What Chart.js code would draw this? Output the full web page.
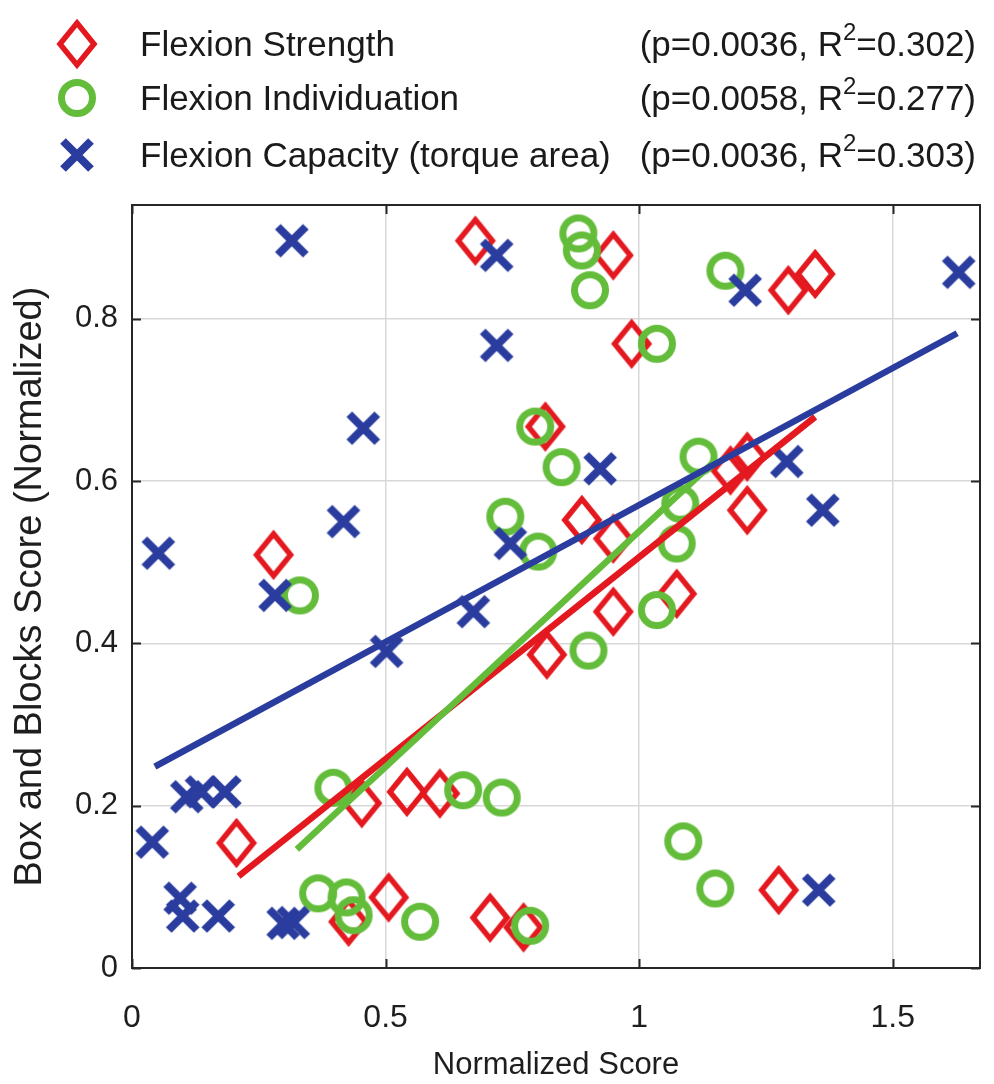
<!DOCTYPE html>
<html>
<head>
<meta charset="utf-8">
<script src="https://cdn.jsdelivr.net/npm/chart.js@4.4.0/dist/chart.umd.min.js"></script>
<style>
  html, body { margin: 0; padding: 0; background: #ffffff; }
  #wrap { width: 994px; height: 1084px; }
</style>
</head>
<body>
<div id="wrap"><canvas id="c" width="994" height="1084"></canvas></div>
<script>
// ---------- data ----------
const seriesNames = ["Flexion Strength", "Flexion Individuation", "Flexion Capacity (torque area)"];
const seriesP = ["0.0036", "0.0058", "0.0036"];
const seriesR2 = ["0.302", "0.277", "0.303"];

const strengthX = [0.677, 0.949, 0.985, 1.294, 1.347, 0.815, 0.279, 0.887, 0.949, 1.180, 1.213, 1.213,
                   1.074, 0.949, 0.818, 0.206, 0.453, 0.542, 0.607, 0.427, 0.506, 0.706, 0.772, 1.275];
const strengthY = [0.896, 0.878, 0.769, 0.835, 0.855, 0.667, 0.509, 0.552, 0.529, 0.613, 0.630, 0.564,
                   0.461, 0.439, 0.386, 0.154, 0.203, 0.217, 0.215, 0.057, 0.087, 0.062, 0.050, 0.096];

const individuationX = [0.880, 0.887, 0.903, 1.170, 1.035, 0.795, 0.847, 0.736, 0.801, 0.331, 1.117, 1.081,
                        1.074, 1.035, 0.900, 0.397, 0.653, 0.729, 0.367, 0.423, 0.437, 0.568, 0.785, 1.087, 1.150];
const individuationY = [0.905, 0.884, 0.835, 0.859, 0.769, 0.667, 0.617, 0.556, 0.513, 0.459, 0.630, 0.572,
                        0.523, 0.441, 0.391, 0.222, 0.219, 0.210, 0.092, 0.087, 0.065, 0.057, 0.052, 0.156, 0.098];

const capacityX = [0.315, 0.719, 0.719, 0.456, 0.417, 0.052, 0.282, 0.502, 0.673, 0.746, 0.923, 1.209, 1.630,
                   1.291, 1.362, 1.354, 0.040, 0.108, 0.137, 0.183, 0.095, 0.100, 0.170, 0.298, 0.318];
const capacityY = [0.896, 0.878, 0.767, 0.665, 0.550, 0.511, 0.459, 0.390, 0.439, 0.523, 0.615, 0.835, 0.857,
                   0.624, 0.564, 0.096, 0.155, 0.211, 0.217, 0.217, 0.086, 0.064, 0.064, 0.055, 0.056];

// regression line end points
const strengthFitX = [0.210, 1.347];
const strengthFitY = [0.113, 0.679];
const individuationFitX = [0.325, 1.150];
const individuationFitY = [0.146, 0.625];
const capacityFitX = [0.045, 1.627];
const capacityFitY = [0.248, 0.782];

// axes
const xTicks = [0, 0.5, 1, 1.5];
const yTicks = [0, 0.2, 0.4, 0.6, 0.8];
const xTickLabels = ["0", "0.5", "1", "1.5"];
const yTickLabels = ["0", "0.2", "0.4", "0.6", "0.8"];
const xTitle = "Normalized Score";
const yTitle = "Box and Blocks Score (Normalized)";

// ---------- styles ----------
const RED = "#e3191f";
const GREEN = "#63bd3a";
const BLUE = "#2a3d9e";
const FONT = "'Liberation Sans', Arial, Helvetica, sans-serif";

function makeDiamond(color) {
  const c = document.createElement("canvas");
  c.width = 48; c.height = 60;
  const g = c.getContext("2d");
  g.strokeStyle = color; g.lineWidth = 5.5; g.lineJoin = "miter";
  g.beginPath();
  g.moveTo(24, 9); g.lineTo(41, 30); g.lineTo(24, 51); g.lineTo(7, 30); g.closePath();
  g.stroke();
  return c;
}
function makeCircle(color) {
  const c = document.createElement("canvas");
  c.width = 44; c.height = 44;
  const g = c.getContext("2d");
  g.strokeStyle = color; g.lineWidth = 7;
  g.beginPath(); g.arc(22, 22, 15.5, 0, Math.PI * 2); g.stroke();
  return c;
}
function makeCross(color) {
  const c = document.createElement("canvas");
  c.width = 44; c.height = 44;
  const g = c.getContext("2d");
  g.strokeStyle = color; g.lineWidth = 8; g.lineCap = "butt";
  g.beginPath();
  g.moveTo(8, 8); g.lineTo(36, 36);
  g.moveTo(36, 8); g.lineTo(8, 36);
  g.stroke();
  return c;
}
const diamondImg = makeDiamond(RED);
const circleImg = makeCircle(GREEN);
const crossImg = makeCross(BLUE);

function pts(xs, ys) { return xs.map((x, i) => ({ x: x, y: ys[i] })); }

const framePlugin = {
  id: "frame",
  beforeDatasetsDraw(chart) {
    const { ctx, chartArea: a, scales } = chart;
    ctx.save();
    ctx.strokeStyle = "#262626";
    ctx.lineWidth = 2;
    const L = 9;
    ctx.beginPath();
    xTicks.forEach(v => {
      const px = Math.round(scales.x.getPixelForValue(v)) + 0.5;
      ctx.moveTo(px, a.bottom); ctx.lineTo(px, a.bottom - L);
      ctx.moveTo(px, a.top); ctx.lineTo(px, a.top + L);
    });
    yTicks.forEach(v => {
      const py = Math.round(scales.y.getPixelForValue(v)) + 0.5;
      ctx.moveTo(a.left, py); ctx.lineTo(a.left + L, py);
      ctx.moveTo(a.right, py); ctx.lineTo(a.right - L, py);
    });
    ctx.stroke();
    ctx.strokeRect(a.left, a.top, a.right - a.left, a.bottom - a.top);
    ctx.restore();
  }
};

const legendPlugin = {
  id: "customLegend",
  afterDraw(chart) {
    const ctx = chart.ctx;
    const imgs = [diamondImg, circleImg, crossImg];
    const rowsY = [44, 98, 155];
    const size = 35;
    const supSize = 24;
    const rightEdge = 976;
    ctx.save();
    ctx.fillStyle = "#1a1a1a";
    ctx.textBaseline = "alphabetic";
    rowsY.forEach((y, i) => {
      const img = imgs[i];
      ctx.drawImage(img, 77 - img.width / 2, y - img.height / 2);
      const base = y + 12;
      ctx.font = size + "px " + FONT;
      ctx.textAlign = "left";
      ctx.fillText(seriesNames[i], 140, base);
      // right-aligned statistics with superscript 2
      const a = "(p=" + seriesP[i] + ", R";
      const b = "2";
      const c = "=" + seriesR2[i] + ")";
      ctx.font = size + "px " + FONT;
      const wa = ctx.measureText(a).width;
      const wc = ctx.measureText(c).width;
      ctx.font = supSize + "px " + FONT;
      const wb = ctx.measureText(b).width;
      let x0 = rightEdge - wa - wb - wc;
      ctx.font = size + "px " + FONT;
      ctx.fillText(a, x0, base);
      ctx.font = supSize + "px " + FONT;
      ctx.fillText(b, x0 + wa, base - 16);
      ctx.font = size + "px " + FONT;
      ctx.fillText(c, x0 + wa + wb, base);
    });
    ctx.restore();
  }
};

const chart = new Chart(document.getElementById("c"), {
  type: "scatter",
  data: {
    datasets: [
      { label: seriesNames[0], data: pts(strengthX, strengthY), pointStyle: diamondImg, order: 6 },
      { label: seriesNames[1], data: pts(individuationX, individuationY), pointStyle: circleImg, order: 5 },
      { label: seriesNames[2], data: pts(capacityX, capacityY), pointStyle: crossImg, order: 4 },
      { label: "fitS", data: pts(strengthFitX, strengthFitY), showLine: true, pointRadius: 0,
        borderColor: RED, borderWidth: 6.5, order: 3 },
      { label: "fitI", data: pts(individuationFitX, individuationFitY), showLine: true, pointRadius: 0,
        borderColor: GREEN, borderWidth: 6.5, order: 2 },
      { label: "fitC", data: pts(capacityFitX, capacityFitY), showLine: true, pointRadius: 0,
        borderColor: BLUE, borderWidth: 6.5, order: 1 }
    ]
  },
  options: {
    responsive: false,
    devicePixelRatio: 1,
    animation: false,
    events: [],
    layout: { padding: { top: 205, right: 14, left: 0, bottom: 0 } },
    plugins: { legend: { display: false }, tooltip: { enabled: false } },
    scales: {
      x: {
        type: "linear", min: 0, max: 1.672,
        afterBuildTicks(scale) { scale.ticks = xTicks.map(v => ({ value: v })); },
        afterFit(scale) { scale.height = 116; },
        grid: { color: "#d8d8d8", lineWidth: 1.5, drawTicks: false },
        border: { display: false },
        ticks: {
          padding: 31, color: "#1e1e1e",
          font: { family: FONT, size: 32 },
          callback: (v) => { const i = xTicks.indexOf(v); return i >= 0 ? xTickLabels[i] : ""; }
        },
        title: { display: true, text: xTitle, color: "#1e1e1e", font: { family: FONT, size: 31 },
                 padding: { top: 0, bottom: 0 } }
      },
      y: {
        type: "linear", min: 0, max: 0.94,
        afterBuildTicks(scale) { scale.ticks = yTicks.map(v => ({ value: v })); },
        afterFit(scale) { scale.width = 132; },
        grid: { color: "#d8d8d8", lineWidth: 1.5, drawTicks: false },
        border: { display: false },
        ticks: {
          padding: 14, color: "#1e1e1e",
          font: { family: FONT, size: 31 },
          callback: (v) => { const i = yTicks.indexOf(v); return i >= 0 ? yTickLabels[i] : ""; }
        },
        title: { display: true, text: yTitle, color: "#1e1e1e", font: { family: FONT, size: 38 },
                 padding: { top: 8, bottom: 0 } }
      }
    }
  },
  plugins: [framePlugin, legendPlugin]
});
</script>
</body>
</html>
